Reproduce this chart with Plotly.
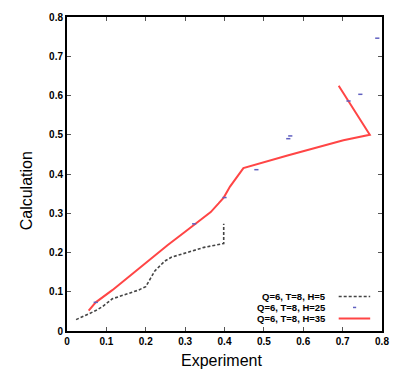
import plotly.graph_objects as go

# H=5 series (dashed black)
h5_x = [0.023, 0.04, 0.056, 0.073, 0.09, 0.115, 0.148, 0.181, 0.200, 0.223, 0.248, 0.265, 0.315, 0.348, 0.398, 0.398]
h5_y = [0.029, 0.036, 0.044, 0.052, 0.062, 0.082, 0.094, 0.104, 0.113, 0.153, 0.178, 0.188, 0.203, 0.213, 0.223, 0.273]

# H=25 series (blue points)
h25_x = [0.073, 0.323, 0.400, 0.481, 0.562, 0.567, 0.715, 0.745, 0.788]
h25_y = [0.073, 0.273, 0.340, 0.411, 0.490, 0.497, 0.586, 0.603, 0.746]

# H=35 series (red line)
h35_x = [0.055, 0.073, 0.115, 0.150, 0.181, 0.220, 0.256, 0.300, 0.323, 0.365, 0.385, 0.398, 0.414, 0.430, 0.448, 0.560, 0.702, 0.769, 0.690]
h35_y = [0.052, 0.073, 0.104, 0.133, 0.157, 0.189, 0.219, 0.253, 0.271, 0.303, 0.325, 0.340, 0.368, 0.390, 0.415, 0.447, 0.486, 0.500, 0.625]

labels = ["Q=6, T=8, H=5", "Q=6, T=8, H=25", "Q=6, T=8, H=35"]
x_ticks = [0, 0.1, 0.2, 0.3, 0.4, 0.5, 0.6, 0.7, 0.8]
y_ticks = [0, 0.1, 0.2, 0.3, 0.4, 0.5, 0.6, 0.7, 0.8]

fig = go.Figure()
fig.add_trace(go.Scatter(x=h5_x, y=h5_y, mode="lines", name=labels[0],
                         line=dict(color="#444444", width=1.6, dash="3px,2px"), showlegend=False))
fig.add_trace(go.Scatter(x=h35_x, y=h35_y, mode="lines", name=labels[2],
                         line=dict(color="#ff4545", width=2), showlegend=False))
fig.add_trace(go.Scatter(x=h25_x, y=h25_y, mode="markers", name=labels[1],
                         marker=dict(symbol="line-ew", size=3, line=dict(color="#6060c0", width=1.5)),
                         showlegend=False))

axis_common = dict(showgrid=False, zeroline=False, showline=True, linecolor="black", linewidth=2,
                   mirror="allticks", ticks="inside", ticklen=4, tickcolor="#555555", tickwidth=1,
                   tickfont=dict(family="Liberation Sans", size=10, color="black", weight="bold"))

fig.update_layout(
    width=400, height=374,
    margin=dict(l=67, r=13, t=11, b=43),
    plot_bgcolor="white", paper_bgcolor="white",
    xaxis=dict(range=[0, 0.8], tickvals=x_ticks, ticktext=[str(v) for v in x_ticks], **axis_common),
    yaxis=dict(range=[0, 0.8], tickvals=y_ticks, ticktext=[str(v) for v in y_ticks], **axis_common),
)

# axis titles
fig.add_annotation(text="Experiment", xref="paper", yref="paper", x=0.49, y=-0.095,
                   xanchor="center", yanchor="middle", showarrow=False,
                   font=dict(family="Liberation Sans", size=16, color="black"))
fig.add_annotation(text="Calculation", xref="paper", yref="paper", x=-0.13, y=0.445,
                   xanchor="center", yanchor="middle", showarrow=False, textangle=-90,
                   font=dict(family="Liberation Sans", size=16, color="black"))

# manual legend (text left of sample)
leg_y = [0.110, 0.075, 0.040]
for lab, yy in zip(labels, leg_y):
    fig.add_annotation(text=lab, xref="paper", yref="paper", x=0.828, y=yy,
                       xanchor="right", yanchor="middle", showarrow=False,
                       font=dict(family="Liberation Sans", size=9.5, color="black", weight="bold"))
fig.add_shape(type="line", xref="paper", yref="paper", x0=0.8625, x1=0.9625, y0=leg_y[0], y1=leg_y[0],
              line=dict(color="#444444", width=1.6, dash="3px,2px"))
fig.add_shape(type="line", xref="paper", yref="paper", x0=0.908, x1=0.918, y0=leg_y[1], y1=leg_y[1],
              line=dict(color="#6060c0", width=1.5))
fig.add_shape(type="line", xref="paper", yref="paper", x0=0.8625, x1=0.9625, y0=leg_y[2], y1=leg_y[2],
              line=dict(color="#ff4545", width=2))

fig.write_html("out.html", config={"displayModeBar": False},
               post_script="document.body.style.margin='0px';")
